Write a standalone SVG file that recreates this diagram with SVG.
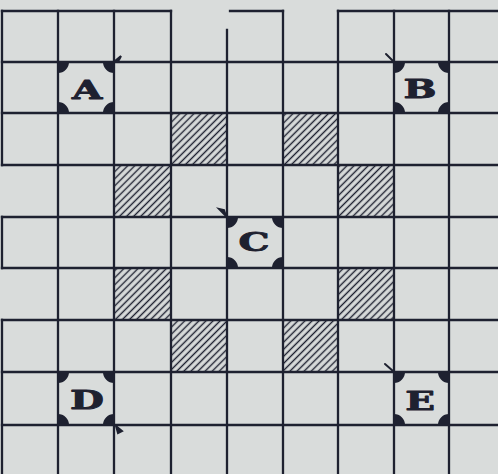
<svg xmlns="http://www.w3.org/2000/svg" width="498" height="474" viewBox="0 0 498 474">
<defs>
<style>
.ln{stroke:#1e2130;stroke-width:2.3;stroke-linecap:square;fill:none}
.hat{fill:url(#hatch);stroke:none}
.blob{fill:#1e2130}
.lbl{font-family:"DejaVu Serif","Liberation Serif",serif;font-weight:bold;font-size:26px;fill:#1e2130;stroke:#1e2130;stroke-width:0.9;stroke-linejoin:round;text-anchor:middle}
.tick{stroke:#1e2130;stroke-width:2;fill:#1e2130;stroke-linecap:round}
</style>
<pattern id="hatch" patternUnits="userSpaceOnUse" width="5" height="5" patternTransform="rotate(-45)">
<rect width="5" height="5" fill="#d9dcdb"/>
<line x1="0" y1="2.5" x2="5" y2="2.5" stroke="#1e2130" stroke-width="1.4"/>
</pattern>
</defs>
<rect width="498" height="474" fill="#d9dcdb"/>
<g id="hatched">
<rect class="hat" x="171" y="113" width="56" height="52"/>
<rect class="hat" x="283" y="113" width="55" height="52"/>
<rect class="hat" x="114" y="165" width="57" height="52"/>
<rect class="hat" x="338" y="165" width="56" height="52"/>
<rect class="hat" x="114" y="267" width="57" height="53"/>
<rect class="hat" x="338" y="267" width="56" height="53"/>
<rect class="hat" x="171" y="320" width="56" height="52"/>
<rect class="hat" x="283" y="320" width="55" height="52"/>
</g>
<g id="grid" class="ln">
<path d="M2 11H171M230 11H283M338 11H498"/>
<path d="M2 11V165M2 217V268M2 320V474"/>
<path d="M58 11V474M114 11V474M171 11V474M227 30V474M283 11V474M338 11V474M394 11V474M449 11V474"/>
<path d="M2 62H498M2 113H498M2 165H498M2 217H498M2 268H498M2 320H498M2 372H498M2 425H498"/>
</g>
<g id="nodeA">
<path class="blob" d="M58 62h11a11 11 0 0 1 -11 11zM114 62v11a11 11 0 0 1 -11 -11zM58 113v-11a11 11 0 0 1 11 11zM114 113h-11a11 11 0 0 1 11 -11z"/>
<text class="lbl" transform="translate(87 99) scale(1.5 1)">A</text>
</g>
<g id="nodeB">
<path class="blob" d="M394 62h11a11 11 0 0 1 -11 11zM449 62v11a11 11 0 0 1 -11 -11zM394 113v-11a11 11 0 0 1 11 11zM449 113h-11a11 11 0 0 1 11 -11z"/>
<text class="lbl" transform="translate(420 98) scale(1.5 1)">B</text>
</g>
<g id="nodeC">
<path class="blob" d="M227 217h11a11 11 0 0 1 -11 11zM283 217v11a11 11 0 0 1 -11 -11zM227 268v-11a11 11 0 0 1 11 11zM283 268h-11a11 11 0 0 1 11 -11z"/>
<text class="lbl" transform="translate(254 251) scale(1.5 1)">C</text>
</g>
<g id="nodeD">
<path class="blob" d="M58 372h11a11 11 0 0 1 -11 11zM114 372v11a11 11 0 0 1 -11 -11zM58 425v-11a11 11 0 0 1 11 11zM114 425h-11a11 11 0 0 1 11 -11z"/>
<text class="lbl" transform="translate(87 409) scale(1.5 1)">D</text>
</g>
<g id="nodeE">
<path class="blob" d="M394 372h11a11 11 0 0 1 -11 11zM449 372v11a11 11 0 0 1 -11 -11zM394 425v-11a11 11 0 0 1 11 11zM449 425h-11a11 11 0 0 1 11 -11z"/>
<text class="lbl" transform="translate(420 410) scale(1.5 1)">E</text>
</g>
<g id="connectors">
<path class="tick" d="M115 61L121 56L119 60Z"/>
<path class="tick" d="M393 61L386 54"/>
<path class="tick" d="M226 216L219 209L224 210Z"/>
<path class="tick" d="M116 426L118 433L122 431Z"/>
<path class="tick" d="M393 371L385 364"/>
</g>
</svg>
